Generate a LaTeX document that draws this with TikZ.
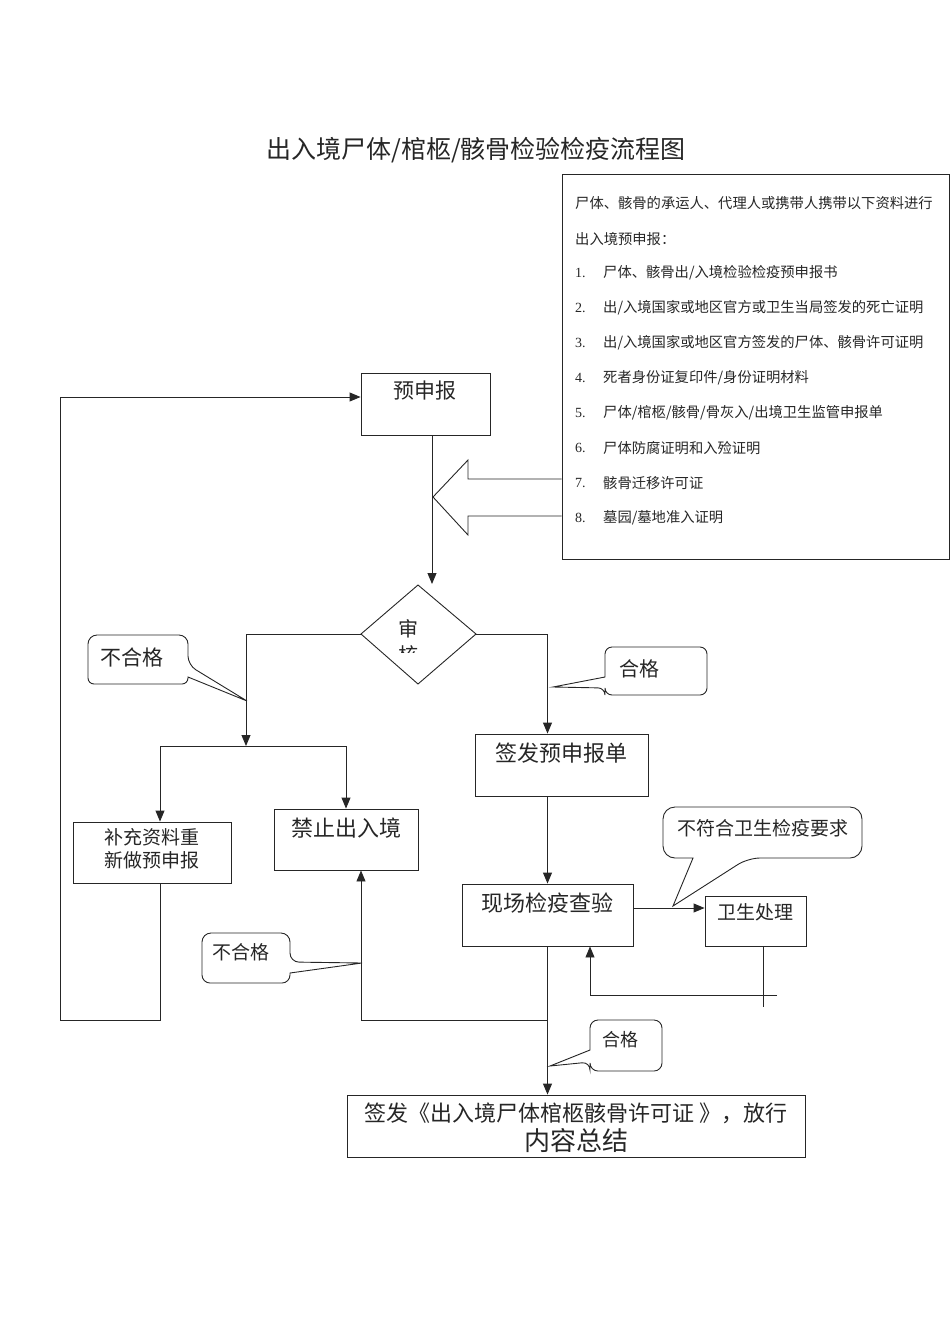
\documentclass[tikz,border=0pt]{standalone}
\usepackage{fontspec}
\setmainfont{Noto Sans CJK SC}
\newfontfamily\numfont{Liberation Serif}
\usetikzlibrary{arrows.meta}
\begin{document}
\begin{tikzpicture}[x=1pt,y=-1pt,
  ln/.style={line width=0.9pt,draw=black!85},
  arr/.style={ln,-{Triangle[length=11pt,width=9pt]}},
  box/.style={ln,draw,rectangle,inner sep=0pt},
  txt/.style={inner sep=0pt,text=black!85},
  tA/.style={txt,font=\fontsize{22}{26}\selectfont},
  tB/.style={txt,font=\fontsize{20}{24}\selectfont},
  tC/.style={txt,font=\fontsize{19}{23}\selectfont},
  tS/.style={txt,font=\fontsize{14.3}{16}\selectfont,anchor=west},
  tN/.style={txt,font=\numfont\fontsize{14}{16}\selectfont,anchor=west},
  call/.style={ln}]
\useasboundingbox (0,0) rectangle (950,1344);

% title
\node[txt,font=\fontsize{25}{29}\selectfont] (title) at (476,150) {出入境尸体/棺柩/骸骨检验检疫流程图};

% info box
\node[box,minimum width=387,minimum height=385] (info) at (755.5,366.5) {};
\node[tS] (i0) at (575,203) {尸体、骸骨的承运人、代理人或携带人携带以下资料进行};
\node[tS] (i00) at (575,239) {出入境预申报：};
\node[tN] (n1) at (575,273) {1.}; \node[tS] (i1) at (603,273) {尸体、骸骨出/入境检验检疫预申报书};
\node[tN] (n2) at (575,308) {2.}; \node[tS] (i2) at (603,308) {出/入境国家或地区官方或卫生当局签发的死亡证明};
\node[tN] (n3) at (575,343) {3.}; \node[tS] (i3) at (603,343) {出/入境国家或地区官方签发的尸体、骸骨许可证明};
\node[tN] (n4) at (575,378) {4.}; \node[tS] (i4) at (603,378) {死者身份证复印件/身份证明材料};
\node[tN] (n5) at (575,413) {5.}; \node[tS] (i5) at (603,413) {尸体/棺柩/骸骨/骨灰入/出境卫生监管申报单};
\node[tN] (n6) at (575,448) {6.}; \node[tS] (i6) at (603,448) {尸体防腐证明和入殓证明};
\node[tN] (n7) at (575,483) {7.}; \node[tS] (i7) at (603,483) {骸骨迁移许可证};
\node[tN] (n8) at (575,518) {8.}; \node[tS] (i8) at (603,518) {墓园/墓地准入证明};

% hollow arrow from info box
\draw[ln] (info.west |- 0,479) -- (468,479) -- (468,460) -- (433,497) -- (468,535) -- (468,516) -- (info.west |- 0,516);

% boxes
\node[box,minimum width=129,minimum height=62] (ysb) at (425.5,404) {};
\node[tB,font=\fontsize{21}{25}\selectfont] (ysbt) at (425,391) {预申报};

\coordinate (dT) at (418,585);
\coordinate (dL) at (361,634);
\coordinate (dR) at (476,634);
\coordinate (dB) at (418,684);
\draw[ln] (dT) -- (dR) -- (dB) -- (dL) -- cycle;
\node[tB] (sh) at (408,629) {审};
\begin{scope}
  \clip (390,640) rectangle (430,652);
  \node[tB] (he) at (408,655) {核};
\end{scope}

\node[box,minimum width=158,minimum height=61] (bc) at (152,852.5) {};
\node[tC,align=center,font=\fontsize{19}{23}\selectfont] (bct) at (152,849) {补充资料重\\新做预申报};

\node[box,minimum width=144,minimum height=61] (jz) at (346,839.5) {};
\node[tA] (jzt) at (346,828) {禁止出入境};

\node[box,minimum width=173,minimum height=62] (qf) at (561.5,765) {};
\node[tA] (qft) at (561,753) {签发预申报单};

\node[box,minimum width=171,minimum height=62] (xc) at (547.5,915) {};
\node[tA] (xct) at (547,903) {现场检疫查验};

\node[box,minimum width=101,minimum height=50] (ws) at (755.5,921) {};
\node[tC] (wst) at (755,912) {卫生处理};

\node[box,minimum width=458,minimum height=62] (fin) at (576,1126) {};
\node[tA] (fin1) at (576,1113) {签发《出入境尸体棺柩骸骨许可证 》，放行};
\node[txt,font=\fontsize{26}{30}\selectfont] (fin2) at (576,1141) {内容总结};

% connectors
\coordinate (a1) at (432,584);
\draw[arr] (ysb.south -| a1) -- (a1);

\coordinate (jL) at (246,746);
\draw[arr] (dL) -| (jL);
\coordinate (jB) at (160,746);
\coordinate (jJ) at (346,746);
\draw[ln] (jB) -- (jJ);
\draw[arr] (jB) -- (jB |- bc.north);
\draw[arr] (jJ) -- (jJ |- jz.north);

\coordinate (mx) at (547.5,0);
\draw[arr] (dR) -| (mx |- qf.north);
\draw[arr] (mx |- qf.south) -- (xc.north);

\coordinate (r1) at (0,908);
\draw[arr] (xc.east |- r1) -- (ws.west |- r1);

\coordinate (f1) at (763,1007);
\coordinate (f2) at (777,995);
\coordinate (f3) at (590,995);
\draw[ln] (ws.south -| f1) -- (f1);
\draw[ln] (f2) -- (f3);
\draw[arr] (f3) -- (f3 |- xc.south);

\draw[arr] (xc.south) -- (xc.south |- fin.north);

\coordinate (g1) at (361,1020);
\draw[arr] (mx |- g1) -- (g1) -- (g1 |- jz.south);

\coordinate (h1) at (160,1020);
\coordinate (lp) at (60,1020);
\coordinate (ysbin) at (0,397);
\draw[arr] (bc.south -| h1) -- (h1) -- (lp) -- (lp |- ysbin) -- (ysb.west |- ysbin);

% callouts
\draw[call] (138,635) [rounded corners=9] -- (188,635) -- (188,665) [sharp corners] -- (247,701) -- (188,677) -- (188,678) [rounded corners=6] -- (188,684) -- (88,684) [rounded corners=9] -- (88,635) -- cycle;
\node[tB,font=\fontsize{21}{25}\selectfont] (c1t) at (132,657) {不合格};

\draw[call] (656,647) [rounded corners=7] -- (707,647) -- (707,695) -- (605,695) -- (605,688) [sharp corners] -- (553,687) -- (605,677) -- (605,670) [rounded corners=7] -- (605,647) -- cycle;
\node[tB] (c2t) at (639,669) {合格};

\draw[call] (762,807) [rounded corners=12] -- (862,807) -- (862,858) -- (748,858) [sharp corners] -- (673,906) -- (693,858) -- (690,858) [rounded corners=12] -- (663,858) -- (663,807) -- cycle;
\node[tC] (c3t) at (763,828) {不符合卫生检疫要求};

\draw[call] (626,1020) [rounded corners=8] -- (662,1020) -- (662,1071) -- (590,1071) -- (590,1062) [sharp corners] -- (550,1066) -- (590,1050) -- (590,1045) [rounded corners=8] -- (590,1020) -- cycle;
\node[txt,font=\fontsize{18}{22}\selectfont] (c4t) at (620,1040) {合格};

\draw[call] (246,933) [rounded corners=9] -- (290,933) -- (290,962) [sharp corners] -- (362,963) -- (290,973) -- (290,974) [rounded corners=8] -- (290,983) -- (202,983) [rounded corners=9] -- (202,933) -- cycle;
\node[tC] (c5t) at (241,952) {不合格};
\end{tikzpicture}
\end{document}
